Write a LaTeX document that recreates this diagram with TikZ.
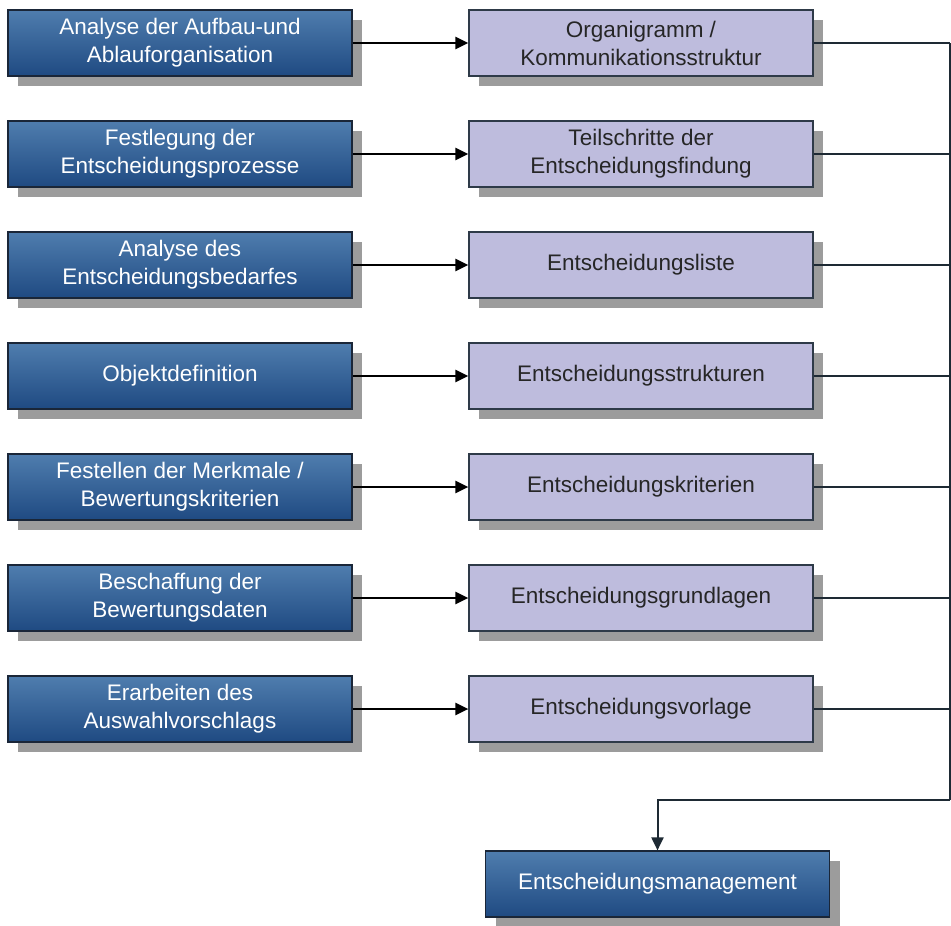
\documentclass[tikz,border=0pt]{standalone}
\usepackage{fontspec}
\setmainfont{Liberation Sans}
\usetikzlibrary{shadows,arrows.meta}
\definecolor{bluetop}{HTML}{4F7DAE}
\definecolor{bluebot}{HTML}{1F4A82}
\definecolor{navyline}{HTML}{1A2638}
\definecolor{lav}{HTML}{BEBCDD}
\definecolor{lavline}{HTML}{2E3A48}
\definecolor{shadowgray}{HTML}{9C9C9C}
\definecolor{conn}{HTML}{1E2A34}
\begin{document}
\begin{tikzpicture}[x=1pt,y=-1pt,
  boxshadow/.style={general shadow={fill=shadowgray, shadow xshift=10pt, shadow yshift=-10pt}},
  bluebox/.style={boxshadow, draw=navyline, line width=1.2pt, top color=bluetop, bottom color=bluebot,
     minimum width=344pt, minimum height=66pt, inner sep=0pt, align=center,
     text=white, font=\fontsize{22.5}{28}\selectfont},
  lavbox/.style={boxshadow, draw=lavline, line width=1.2pt, fill=lav,
     minimum width=344pt, minimum height=66pt, inner sep=0pt, align=center,
     text=black!85, font=\fontsize{22.5}{28}\selectfont},
  arr/.style={line width=2.4pt, draw=black, -{Triangle[length=13pt,width=12pt]}},
  link/.style={line width=2.4pt, draw=conn},
  downarr/.style={line width=2pt, draw=conn, -{Triangle[length=13pt,width=12pt]}}
]
\useasboundingbox (0,0) rectangle (951,926);
\fill[white] (0,0) rectangle (951,926);

\node[bluebox] (l1) at (180,43) {Analyse der Aufbau-und\\Ablauforganisation};
\node[bluebox] (l2) at (180,154) {Festlegung der\\Entscheidungsprozesse};
\node[bluebox] (l3) at (180,265) {Analyse des\\Entscheidungsbedarfes};
\node[bluebox] (l4) at (180,376) {Objektdefinition};
\node[bluebox] (l5) at (180,487) {Festellen der Merkmale /\\Bewertungskriterien};
\node[bluebox] (l6) at (180,598) {Beschaffung der\\Bewertungsdaten};
\node[bluebox] (l7) at (180,709) {Erarbeiten des\\Auswahlvorschlags};

\node[lavbox] (r1) at (641,43) {Organigramm /\\Kommunikationsstruktur};
\node[lavbox] (r2) at (641,154) {Teilschritte der\\Entscheidungsfindung};
\node[lavbox] (r3) at (641,265) {Entscheidungsliste};
\node[lavbox] (r4) at (641,376) {Entscheidungsstrukturen};
\node[lavbox] (r5) at (641,487) {Entscheidungskriterien};
\node[lavbox] (r6) at (641,598) {Entscheidungsgrundlagen};
\node[lavbox] (r7) at (641,709) {Entscheidungsvorlage};

\node[bluebox] (bot) at (657.5,884) {Entscheidungsmanagement};

\foreach \i/\y in {1/43,2/154,3/265,4/376,5/487,6/598,7/709}{
  \coordinate (e\i) at (950,\y);
  \draw[arr] (l\i.east) -- (r\i.west);
  \draw[link] (r\i.east) -- (e\i);
}
\coordinate (corner) at (950,800);
\draw[link] (e1) -- (corner);
\draw[downarr] (corner) -| (bot.north);
\end{tikzpicture}
\end{document}
